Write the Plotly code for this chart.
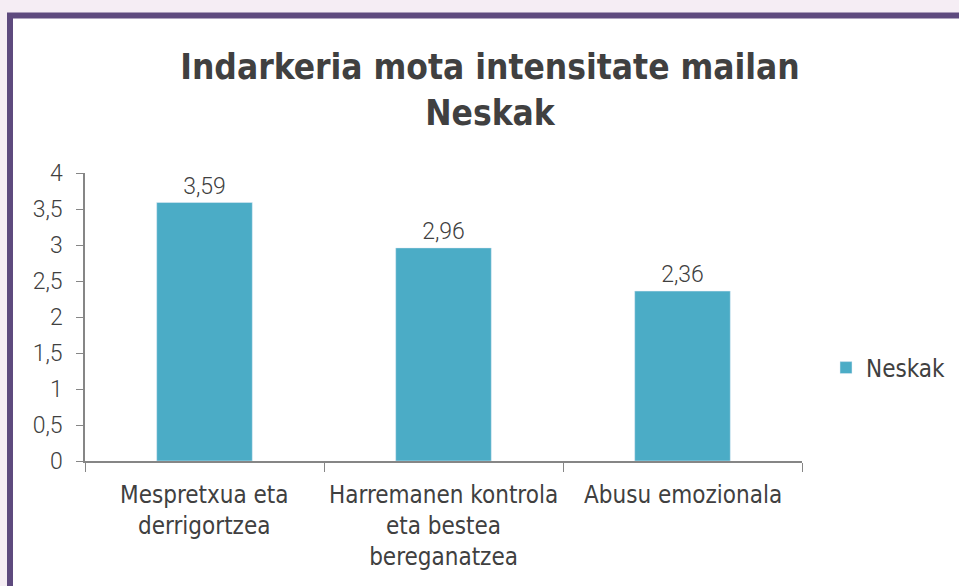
import plotly.graph_objects as go

categories = ["Mespretxua eta<br>derrigortzea", "Harremanen kontrola<br>eta bestea<br>bereganatzea", "Abusu emozionala"]
values = [3.59, 2.96, 2.36]
series_name = "Neskak"
title_lines = ["Indarkeria mota intensitate mailan", "Neskak"]

W, H = 959, 586
L, R, T, B = 85, 157, 173, 125
pw, ph = W - L - R, H - T - B
COND = "DejaVu Sans Condensed, Liberation Sans, sans-serif"

def px_x(x):
    return (x - L) / pw

def px_y(y):
    return (H - B - y) / ph

xpos = list(range(len(categories)))

fig = go.Figure()
fig.add_trace(go.Bar(
    x=xpos, y=values, name=series_name,
    marker_color="#4BACC6", width=0.4,
    texttemplate="%{y:.2f}", textposition="outside",
    textfont=dict(family="Roboto", size=23, color="#404040", weight=300),
    cliponaxis=False, showlegend=True,
))

# outer frame
fig.add_shape(type="rect", xref="paper", yref="paper",
              x0=px_x(10), x1=px_x(1100), y0=px_y(800), y1=px_y(15.5),
              line=dict(color="#5E4A7E", width=6), fillcolor="white", layer="below")

for i, c in enumerate(categories):
    fig.add_annotation(x=i, y=px_y(479), xref="x", yref="paper", text=c,
                       showarrow=False, yanchor="top",
                       font=dict(family=COND, size=24, color="#404040"))

fig.update_layout(
    width=W, height=H,
    margin=dict(l=L, r=R, t=T, b=B, autoexpand=False),
    paper_bgcolor="#F5EDF4", plot_bgcolor="white",
    separators=", ",
    title=dict(text="<b>" + title_lines[0] + "<br>" + title_lines[1] + "</b>",
               x=490 / W, xanchor="center", y=1 - 79 / H, yanchor="middle",
               font=dict(family=COND, size=35, color="#404040")),
    xaxis=dict(range=[-0.5, 2.5], tickvals=[-0.5, 0.5, 1.5, 2.5], ticktext=["", "", "", ""],
               ticks="outside", ticklen=9, tickcolor="#868686", showgrid=False,
               showline=True, linecolor="#868686", linewidth=1.5, zeroline=False, fixedrange=True),
    yaxis=dict(range=[0, 4], dtick=0.5, ticks="outside", ticklen=7, tickcolor="#868686",
               showgrid=False, showline=True, linecolor="#868686", linewidth=1.5, zeroline=False,
               ticklabelstandoff=9,
               tickfont=dict(family="Roboto", size=23, color="#404040", weight=300), automargin=False),
    legend=dict(x=px_x(826), y=px_y(368), xanchor="left", yanchor="middle",
                font=dict(family=COND, size=24, color="#404040"),
                bgcolor="rgba(0,0,0,0)"),
)

fig.write_html("out.html", config={"displayModeBar": False},
               post_script="document.body.style.margin='0';document.body.style.overflow='hidden';")
